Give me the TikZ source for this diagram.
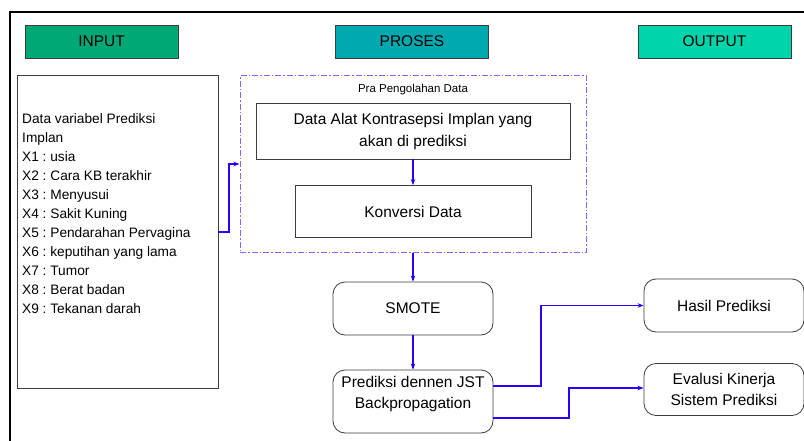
\documentclass[tikz,border=0pt]{standalone}
\usepackage{fontspec}
\setmainfont{Liberation Sans}
\usetikzlibrary{arrows.meta}
\frenchspacing
\definecolor{ingreen}{RGB}{0,168,118}
\definecolor{proteal}{RGB}{0,168,175}
\definecolor{outmint}{RGB}{0,212,170}
\definecolor{arrblue}{RGB}{40,0,255}
\definecolor{dashblue}{RGB}{120,105,255}
\definecolor{boxgray}{RGB}{60,60,60}
\tikzset{
  header/.style={draw=boxgray, line width=0.8pt, minimum width=153, minimum height=33, inner sep=0pt, font=\fontsize{15.5}{17}\selectfont},
  box/.style={draw=boxgray, line width=0.8pt, fill=white, inner sep=0pt, align=center, font=\fontsize{15.5}{22}\selectfont},
  rbox/.style={box, rounded corners=12pt},
  flow/.style={draw=arrblue, line width=1.6pt, -{Stealth[length=6pt,width=4.5pt]}},
  dashframe/.style={draw=dashblue, line width=1pt, dash pattern=on 6pt off 2pt on 1.5pt off 2pt}
}
\begin{document}
\begin{tikzpicture}[x=1pt,y=-1pt]
\useasboundingbox (0,0) rectangle (804,440);
% outer frame
\draw[line width=1.5pt] (10,445) -- (10,12) -- (810,12);
% headers
\node[header, fill=ingreen] (hin) at (101.5,41.5) {INPUT};
\node[header, fill=proteal] (hpro) at (412,41.5) {PROSES};
\node[header, fill=outmint] (hout) at (714.5,41.5) {OUTPUT};
% input list box
\node[box, minimum width=201, minimum height=313] (inbox) at (117.5,231.5) {};
\node[anchor=north west, inner sep=0pt, align=left, font=\fontsize{13.7}{19}\selectfont] (intext) at (22,113)
{Data variabel Prediksi\\Implan\\X1 : usia\\X2 : Cara KB terakhir\\X3 : Menyusui\\X4 : Sakit Kuning\\X5 : Pendarahan Pervagina\\X6 : keputihan yang lama\\X7 : Tumor\\X8 : Berat badan\\X9 : Tekanan darah};
% pre-processing frame
\node[dashframe, minimum width=346, minimum height=177, inner sep=0pt] (pra) at (413,164) {};
\node[inner sep=0pt, font=\fontsize{11.5}{13}\selectfont] (pralabel) at (413,90) {Pra Pengolahan Data};
\node[box, minimum width=314, minimum height=56] (alat) at (413,131) {Data Alat Kontrasepsi Implan yang\\akan di prediksi};
\node[box, minimum width=236, minimum height=52] (konv) at (413,211.5) {Konversi Data};
% process
\node[rbox, minimum width=160, minimum height=53] (smote) at (413,308.5) {SMOTE};
\node[rbox, minimum width=160, minimum height=63] (jst) at (413,401.5) {};
\node[inner sep=0pt, align=center, font=\fontsize{15.5}{21}\selectfont] (jsttext) at (413,394) {Prediksi dennen JST\\Backpropagation};
% outputs
\node[rbox, minimum width=160, minimum height=53] (hasil) at (724,305.5) {Hasil Prediksi};
\node[rbox, minimum width=160, minimum height=52, font=\fontsize{15.5}{21}\selectfont] (eval) at (724,389.5) {Evalusi Kinerja\\Sistem Prediksi};
% connectors
\coordinate (c1) at (229,232);
\coordinate (c2) at (229,164);
\draw[flow] (inbox.east |- c1) -- (c1) -- (c2) -- (pra.west |- c2);
\draw[flow] (alat.south) -- (konv.north);
\draw[flow] (pra.south) -- (smote.north);
\draw[flow] (smote.south) -- (jst.north);
\coordinate (d1) at (541,386);
\coordinate (d2) at (541,305.5);
\draw[flow] (jst.east |- d1) -- (d1) -- (d2) -- (hasil.west);
\coordinate (e1) at (569,418);
\coordinate (e2) at (569,388);
\draw[flow] (jst.east |- e1) -- (e1) -- (e2) -- (eval.west |- e2);
\end{tikzpicture}
\end{document}
